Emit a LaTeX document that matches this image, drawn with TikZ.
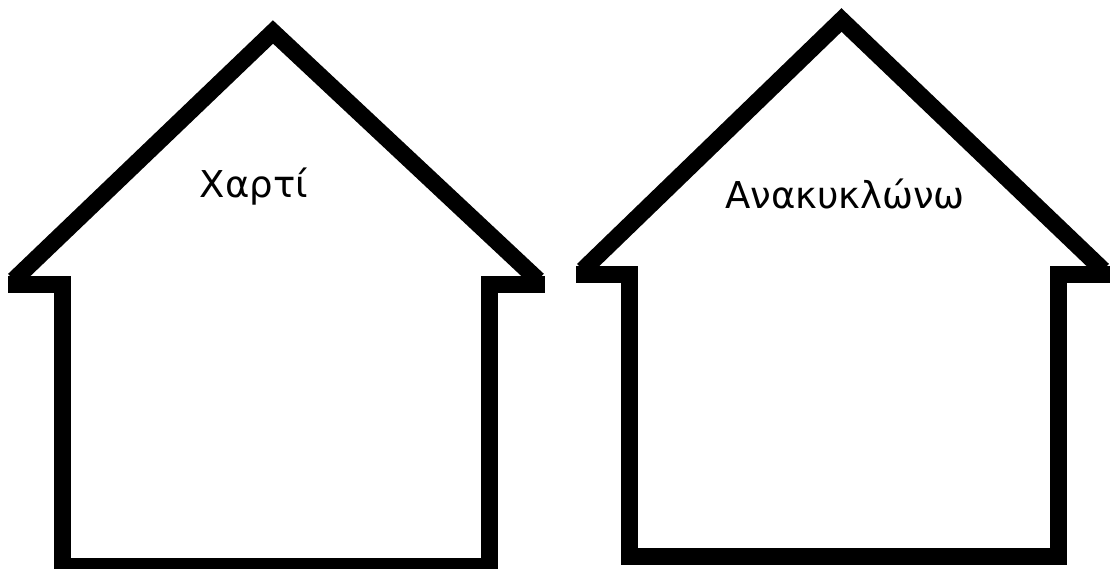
\documentclass[tikz,border=0pt]{standalone}
\usepackage{fontspec}
\setmainfont{DejaVu Sans}
\usetikzlibrary{positioning}

\begin{document}
\begin{tikzpicture}[x=1pt,y=-1pt,
  outline/.style={line width=17pt,line join=miter,line cap=butt},
  word/.style={font=\fontsize{37}{40}\selectfont,anchor=base}]
\useasboundingbox (0,0) rectangle (1110,569);
% left house
\draw[outline] (14,280) -- (273,32) -- (538,280);
\draw[outline] (8,284) -- (62,284) -- (62,566.5) -- (489.5,566.5) -- (489.5,284) -- (545,284);
\node[word] (t1) at (254,198) {Χαρτί};
% right house
\draw[outline] (583,270) -- (841.5,20) -- (1103,270);
\draw[outline] (576,274) -- (629.5,274) -- (629.5,556) -- (1058,556) -- (1058,274) -- (1110,274);
\node[word] (t2) at (845,209) {Ανακυκλώνω};
\end{tikzpicture}
\end{document}
